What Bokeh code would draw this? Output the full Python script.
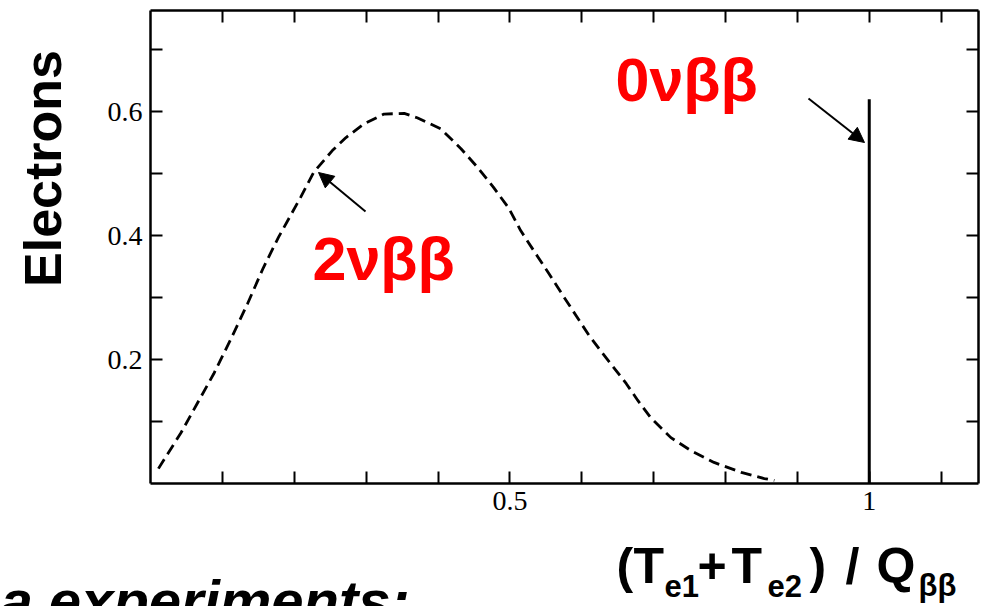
from math import pi
from bokeh.plotting import figure
from bokeh.models import Range1d, LinearAxis, FixedTicker, Label, Arrow, NormalHead
from bokeh.embed import file_html
from bokeh.resources import INLINE

# ---------------- data ----------------
energy_2nu = [0.011, 0.042, 0.065, 0.088, 0.111, 0.135, 0.157, 0.178, 0.209, 0.227,
              0.253, 0.272, 0.297, 0.325, 0.353, 0.371, 0.404, 0.432, 0.455, 0.477,
              0.498, 0.515, 0.533, 0.554, 0.574, 0.592, 0.610, 0.629, 0.662, 0.678,
              0.696, 0.724, 0.752, 0.784, 0.822, 0.854, 0.868]
electrons_2nu = [0.024, 0.081, 0.129, 0.177, 0.231, 0.290, 0.348, 0.397, 0.462, 0.502,
                 0.537, 0.558, 0.580, 0.596, 0.597, 0.590, 0.572, 0.540, 0.510, 0.478,
                 0.445, 0.408, 0.376, 0.339, 0.303, 0.271, 0.239, 0.210, 0.161, 0.134,
                 0.106, 0.074, 0.053, 0.034, 0.018, 0.008, 0.005]

energy_0nu = [1.0, 1.0]
electrons_0nu = [0.0, 0.62]

x_ticks = [0.1, 0.2, 0.3, 0.4, 0.5, 0.6, 0.7, 0.8, 0.9, 1.0, 1.1]
x_tick_labels = {0.5: "0.5", 1.0: "1"}
y_ticks = [0.1, 0.2, 0.3, 0.4, 0.5, 0.6, 0.7]
y_tick_labels = {0.2: "0.2", 0.4: "0.4", 0.6: "0.6"}

# ---------------- layout ----------------
X0, X1 = 0.0, 1.152          # plotted box, data units
Y0, Y1 = 0.0, 0.763
FL, FR, FT, FB = 150, 978, 10, 483   # plotted box edges in page pixels
W, H = 981, 606                      # canvas size
OFF = 0                              # canvas offset on the page


def px2x(px):
    return X0 + (px - FL) / (FR - FL) * (X1 - X0)


def py2y(py):
    return Y0 + (FB - py) / (FB - FT) * (Y1 - Y0)


# the frame covers the whole canvas; the axes are pinned at the box edges
p = figure(width=W, height=H,
           x_range=Range1d(px2x(OFF), px2x(OFF + W)),
           y_range=Range1d(py2y(OFF + H), py2y(OFF)),
           output_backend="svg", toolbar_location=None,
           x_axis_location=None, y_axis_location=None, min_border=0)
p.outline_line_color = None
p.background_fill_color = "white"
p.border_fill_color = "white"
p.xgrid.visible = False
p.ygrid.visible = False


def make_axis(ticks, overrides, show, loc, bounds):
    labels = {t: (overrides.get(t, "") if show else "") for t in ticks}
    return LinearAxis(ticker=FixedTicker(ticks=ticks, minor_ticks=[]),
                      fixed_location=loc, bounds=bounds,
                      major_label_overrides=labels,
                      major_tick_in=12, major_tick_out=0,
                      minor_tick_in=0, minor_tick_out=0,
                      axis_line_width=2.5, axis_line_color="black",
                      major_tick_line_width=2, major_tick_line_color="black",
                      major_label_text_font="Liberation Serif",
                      major_label_text_font_size="28px" if show else "0px",
                      major_label_text_color="black",
                      major_label_standoff=8 if show else 0)


p.add_layout(make_axis(x_ticks, x_tick_labels, True, Y0, (X0, X1)), "below")
p.add_layout(make_axis(x_ticks, x_tick_labels, False, Y1, (X0, X1)), "above")
p.add_layout(make_axis(y_ticks, y_tick_labels, True, X0, (Y0, Y1)), "left")
p.add_layout(make_axis(y_ticks, y_tick_labels, False, X1, (Y0, Y1)), "right")

# curves
p.line(energy_2nu, electrons_2nu, line_color="black", line_width=2.8, line_dash="11 6")
p.line(energy_0nu, electrons_0nu, line_color="black", line_width=3)

# arrows
p.add_layout(Arrow(end=NormalHead(size=15, fill_color="black", line_color="black"),
                   x_start=px2x(808), y_start=py2y(98), x_end=px2x(864), y_end=py2y(142),
                   line_color="black", line_width=2))
p.add_layout(Arrow(end=NormalHead(size=15, fill_color="black", line_color="black"),
                   x_start=px2x(365), y_start=py2y(211), x_end=px2x(318), y_end=py2y(172),
                   line_color="black", line_width=2))

# red annotations (y = label anchor in page px)
for txt, lx, base in [("0νββ", 615, 79), ("2νββ", 312, 258)]:
    p.add_layout(Label(x=px2x(lx), y=py2y(base), text=txt, text_color="#ff0000",
                       text_font="Liberation Sans", text_font_style="bold",
                       text_font_size="61px", text_baseline="alphabetic",
                       text_align="left"))

# y-axis title
p.add_layout(Label(x=px2x(42), y=py2y(168), text="Electrons", angle=pi / 2,
                   text_font="Liberation Sans", text_font_style="bold",
                   text_font_size="52px", text_color="black",
                   text_align="center", text_baseline="middle"))

# x-axis title with subscripts
pieces = [("(", 616, 50, 565), ("T", 633, 50, 565), ("e1", 664, 31, 585),
          ("+", 697, 50, 565), ("T", 731, 50, 565), ("e2", 767, 31, 585),
          (")", 809, 50, 565), ("/", 845, 50, 565), ("Q", 876, 50, 565),
          ("ββ", 918, 31, 585)]
for txt, lx, size, base in pieces:
    p.add_layout(Label(x=px2x(lx), y=py2y(base), text=txt,
                       text_font="Liberation Sans", text_font_style="bold",
                       text_font_size=f"{size}px", text_color="black",
                       text_align="left", text_baseline="alphabetic"))

# partially visible line of text at the bottom
p.add_layout(Label(x=px2x(0), y=py2y(600), text="a experiments:",
                   text_font="Liberation Sans", text_font_style="bold italic",
                   text_font_size="58px", text_color="black",
                   text_align="left", text_baseline="alphabetic"))

open("out.html", "w").write(file_html(p, INLINE))
